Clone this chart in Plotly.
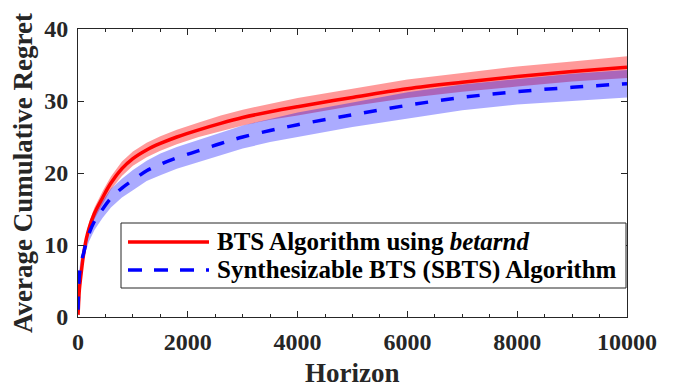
import plotly.graph_objects as go

# ---- data ----
horizon = [1, 10, 25, 50, 75, 100, 150, 200, 300, 450, 600, 800, 1000, 1250, 1500,
           1800, 2200, 2600, 3000, 3500, 4000, 5000, 6000, 7000, 8000, 9000, 10000]
bts_mean = [0.3, 1.8, 3.8, 5.6, 7.2, 8.6, 10.8, 12.3, 14.4, 16.6, 18.6, 20.6, 22.0, 23.2, 24.1,
            25.0, 26.0, 26.9, 27.7, 28.5, 29.2, 30.5, 31.7, 32.6, 33.4, 34.1, 34.7]
bts_spread = [0.1, 0.3, 0.4, 0.5, 0.6, 0.6, 0.7, 0.8, 0.8, 0.9, 0.9, 1.0, 1.0, 1.0, 1.0,
              1.0, 1.0, 1.1, 1.1, 1.1, 1.2, 1.2, 1.3, 1.3, 1.4, 1.4, 1.5]
sbts_mean = [1.0, 3.5, 5.8, 7.2, 8.1, 8.8, 10.4, 11.6, 13.3, 15.0, 16.5, 17.9, 19.0, 20.3, 21.2,
             22.1, 23.1, 24.1, 25.0, 25.9, 26.7, 28.1, 29.4, 30.5, 31.3, 31.9, 32.4]
sbts_spread = [0.3, 0.6, 0.8, 0.9, 1.0, 1.0, 1.1, 1.1, 1.2, 1.2, 1.3, 1.3, 1.4, 1.4, 1.5,
               1.5, 1.5, 1.6, 1.6, 1.6, 1.7, 1.7, 1.8, 1.8, 1.8, 1.9, 1.9]

x_ticks = [0, 2000, 4000, 6000, 8000, 10000]
y_ticks = [0, 10, 20, 30, 40]
x_title = "Horizon"
y_title = "Average Cumulative Regret"
legend_labels = ["BTS Algorithm using <i>betarnd</i>", "Synthesizable BTS (SBTS) Algorithm"]

FONT = "Liberation Serif, Times New Roman, serif"
AX = "#262626"

def band(mean, spread, color):
    upper = [m + s for m, s in zip(mean, spread)]
    lower = [m - s for m, s in zip(mean, spread)]
    return go.Scatter(x=horizon + horizon[::-1], y=upper + lower[::-1], fill="toself",
                      fillcolor=color, line=dict(width=0), mode="lines",
                      hoverinfo="skip", showlegend=False)

fig = go.Figure()
fig.add_trace(band(bts_mean, bts_spread, "rgba(255,0,0,0.40)"))
fig.add_trace(band(sbts_mean, sbts_spread, "rgba(0,0,255,0.33)"))
fig.add_trace(go.Scatter(x=horizon, y=bts_mean, mode="lines", line=dict(color="#FF0000", width=3.5),
                         line_shape="spline", name="BTS", showlegend=False))
fig.add_trace(go.Scatter(x=horizon, y=sbts_mean, mode="lines",
                         line=dict(color="#0000FF", width=3.5, dash="13px,13px"),
                         line_shape="spline", name="SBTS", showlegend=False))

# ---- custom legend box (MATLAB style, long line samples) ----
L, R, T, B = 78, 627, 29, 317
def px(xp):
    return (xp - L) / (R - L)
def py(yp):
    return (B - yp) / (B - T)

fig.add_shape(type="rect", xref="paper", yref="paper", x0=px(121), x1=px(626), y0=py(288), y1=py(223),
              line=dict(color=AX, width=1), fillcolor="white", layer="above")
fig.add_shape(type="line", xref="paper", yref="paper", x0=px(128), x1=px(209), y0=py(242), y1=py(242),
              line=dict(color="#FF0000", width=3.5), layer="above")
fig.add_shape(type="line", xref="paper", yref="paper", x0=px(128), x1=px(209), y0=py(270), y1=py(270),
              line=dict(color="#0000FF", width=3.5, dash="14px,12px"), layer="above")
for lab, yy in zip(legend_labels, [242, 270]):
    fig.add_annotation(xref="paper", yref="paper", x=px(215), y=py(yy), text="<b>" + lab + "</b>",
                       showarrow=False, xanchor="left", yanchor="middle",
                       font=dict(family=FONT, size=25, color="black"))

# axis titles placed as annotations
fig.add_annotation(xref="paper", yref="paper", x=0.5, y=py(373), text="<b>" + x_title + "</b>",
                   showarrow=False, xanchor="center", yanchor="middle",
                   font=dict(family=FONT, size=27, color=AX))
fig.add_annotation(xref="paper", yref="paper", x=px(23), y=py(173), text="<b>" + y_title + "</b>",
                   showarrow=False, xanchor="center", yanchor="middle", textangle=-90,
                   font=dict(family=FONT, size=27, color=AX))

fig.update_layout(
    width=684, height=388,
    margin=dict(l=L, r=684 - R, t=T, b=388 - B),
    paper_bgcolor="white", plot_bgcolor="white",
    font=dict(family=FONT, color=AX),
    showlegend=False,
)
fig.update_xaxes(range=[0, 10000], tickvals=x_ticks, ticktext=["<b>%d</b>" % v for v in x_ticks],
                 automargin=False, ticklabelstandoff=3,
                 showgrid=False, zeroline=False, showline=True, linecolor=AX, linewidth=1,
                 mirror="ticks", ticks="inside", ticklen=6, tickcolor=AX, tickwidth=1,
                 minor=dict(dtick=500, ticks="inside", ticklen=3, tickcolor=AX, showgrid=False),
                 tickfont=dict(family=FONT, size=24, color=AX))
fig.update_yaxes(range=[0, 40], tickvals=y_ticks, ticktext=["<b>%d</b>" % v for v in y_ticks],
                 automargin=False, ticklabelstandoff=4,
                 showgrid=False, zeroline=False, showline=True, linecolor=AX, linewidth=1,
                 mirror="ticks", ticks="inside", ticklen=6, tickcolor=AX, tickwidth=1,
                 tickfont=dict(family=FONT, size=24, color=AX))

fig.write_html("out.html", config={"displayModeBar": False},
               post_script="document.body.style.margin='0';")
